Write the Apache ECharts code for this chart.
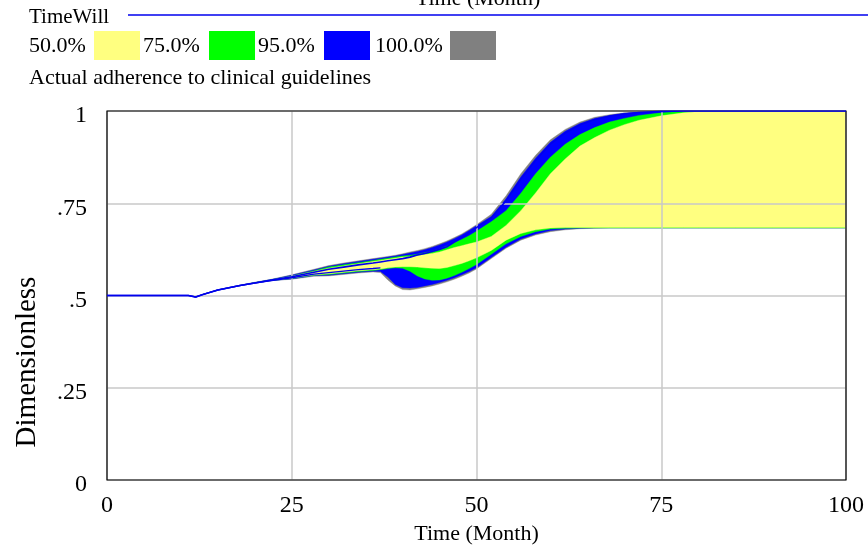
<!DOCTYPE html>
<html>
<head>
<meta charset="utf-8">
<script src="https://cdn.jsdelivr.net/npm/echarts@6/dist/echarts.min.js"></script>
<style>
  html, body { margin: 0; padding: 0; background: #fff; }
  #chart { width: 868px; height: 546px; }
</style>
</head>
<body>
<div id="chart"></div>
<script>
// Time axis (months) shared by every series
const months = [0,5,10,11,12,13,15,18,20,22,25,28,30,32,34,36,37,38,39,40,41,42,43,44,45,46,47,48,49,50,52,54,56,58,60,62,64,66,68,70,72,75,78,80,85,90,95,100];

// TimeWill run
const timeWill = [0.5,0.5,0.5,0.5,0.496,0.503,0.515,0.527,0.534,0.541,
  0.551,0.563,0.571,0.577,0.583,0.588,0.591,0.594,0.597,0.600,
  0.604,0.610,0.614,0.619,0.625,0.632,0.645,0.657,0.670,0.684,
  0.710,0.757,0.815,0.866,0.910,0.940,0.962,0.977,0.986,0.992,
  0.996,0.999,1,1,1,1,1,1];

// second traced run, ends where it joins the lower envelope
const lowerRun = [0.5,0.5,0.5,0.5,0.496,0.503,0.515,0.527,0.534,0.540,
  0.548,0.558,0.562,0.566,0.570,0.573,0.575,null,null,null,
  null,null,null,null,null,null,null,null,null,null,
  null,null,null,null,null,null,null,null,null,null,
  null,null,null,null,null,null,null,null];

// Sensitivity envelopes: upper and lower bounds for each confidence band
const p100Hi = [0.5,0.5,0.5,0.5,0.496,0.503,0.515,0.528,0.536,0.543,
  0.556,0.571,0.581,0.588,0.594,0.600,0.603,0.606,0.609,0.613,
  0.618,0.622,0.627,0.633,0.640,0.648,0.657,0.667,0.679,0.692,
  0.720,0.770,0.830,0.880,0.922,0.950,0.970,0.983,0.990,0.995,
  0.998,1,1,1,1,1,1,1];
const p95Hi = [0.5,0.5,0.5,0.5,0.496,0.503,0.515,0.527,0.535,0.542,
  0.555,0.569,0.579,0.586,0.592,0.598,0.601,0.604,0.607,0.611,
  0.615,0.619,0.624,0.630,0.637,0.645,0.654,0.664,0.676,0.689,
  0.714,0.762,0.821,0.872,0.915,0.945,0.966,0.980,0.988,0.994,
  0.997,0.999,1,1,1,1,1,1];
const p75Hi = [0.5,0.5,0.5,0.5,0.496,0.503,0.515,0.527,0.535,0.542,
  0.553,0.567,0.577,0.583,0.589,0.595,0.598,0.601,0.604,0.607,
  0.609,0.612,0.616,0.620,0.626,0.634,0.643,0.652,0.662,0.674,
  0.700,0.730,0.777,0.830,0.875,0.910,0.936,0.955,0.970,0.980,
  0.988,0.995,0.999,1,1,1,1,1];
const p50Hi = [0.5,0.5,0.5,0.5,0.496,0.503,0.515,0.527,0.534,0.541,
  0.552,0.565,0.574,0.580,0.586,0.592,0.595,0.598,0.601,0.604,
  0.605,0.608,0.611,0.614,0.618,0.624,0.630,0.635,0.640,0.645,
  0.660,0.690,0.730,0.778,0.830,0.870,0.905,0.928,0.948,0.963,
  0.975,0.987,0.995,0.998,1,1,1,1];
const p50Lo = [0.5,0.5,0.5,0.5,0.496,0.503,0.515,0.527,0.534,0.540,
  0.547,0.556,0.559,0.563,0.567,0.570,0.572,0.575,0.577,0.578,
  0.578,0.577,0.575,0.574,0.573,0.576,0.581,0.587,0.594,0.602,
  0.622,0.650,0.668,0.678,0.683,0.684,0.684,0.684,0.684,0.684,
  0.684,0.684,0.684,0.684,0.684,0.684,0.684,0.684];
const p75Lo = [0.5,0.5,0.5,0.5,0.496,0.503,0.515,0.527,0.534,0.540,
  0.546,0.555,0.557,0.561,0.565,0.568,0.570,0.573,0.575,0.574,
  0.566,0.553,0.545,0.541,0.542,0.547,0.554,0.563,0.573,0.584,
  0.612,0.640,0.660,0.673,0.680,0.682,0.683,0.683,0.683,0.683,
  0.683,0.683,0.683,0.683,0.683,0.683,0.683,0.683];
const p95Lo = [0.5,0.5,0.5,0.5,0.496,0.503,0.515,0.527,0.534,0.540,
  0.545,0.554,0.555,0.559,0.563,0.566,0.565,0.550,0.530,0.521,
  0.520,0.522,0.526,0.530,0.535,0.541,0.548,0.556,0.565,0.575,
  0.603,0.631,0.653,0.667,0.676,0.680,0.682,0.683,0.683,0.683,
  0.683,0.683,0.683,0.683,0.683,0.683,0.683,0.683];
const p100Lo = [0.5,0.5,0.5,0.5,0.496,0.503,0.515,0.527,0.534,0.540,
  0.544,0.552,0.553,0.557,0.561,0.564,0.562,0.542,0.526,0.516,
  0.515,0.518,0.522,0.526,0.531,0.537,0.544,0.552,0.561,0.572,
  0.600,0.628,0.650,0.664,0.673,0.678,0.681,0.682,0.683,0.683,
  0.683,0.683,0.683,0.683,0.683,0.683,0.683,0.683];

// Band labels and tick labels
const bandLabels = ['50.0%', '75.0%', '95.0%', '100.0%'];
const xTicks = [0, 25, 50, 75, 100];
const yTickLabels = { 0: '0', 0.25: '.25', 0.5: '.5', 0.75: '.75', 1: '1' };

const bandColors = ['#ffff80', '#00ff00', '#0000ff', '#808080'];
const bands = [
  { label: bandLabels[3], lo: p100Lo, hi: p100Hi, color: bandColors[3] },
  { label: bandLabels[2], lo: p95Lo, hi: p95Hi, color: bandColors[2] },
  { label: bandLabels[1], lo: p75Lo, hi: p75Hi, color: bandColors[1] },
  { label: bandLabels[0], lo: p50Lo, hi: p50Hi, color: bandColors[0] }
];

const serif = '"Liberation Serif", "Times New Roman", serif';
const series = [];

// Each band is one filled polygon: upper bound left to right, lower bound back
bands.forEach((b) => {
  series.push({
    name: b.label, type: 'custom', silent: true, z: 2, clip: true,
    data: months.map((t, k) => [t, b.lo[k], b.hi[k]]),
    encode: { x: 0, y: [1, 2] },
    renderItem: (params, api) => {
      if (params.dataIndex !== 0) return null;
      const pts = [];
      for (let k = 0; k < months.length; k++) pts.push(api.coord([months[k], b.hi[k]]));
      for (let k = months.length - 1; k >= 0; k--) pts.push(api.coord([months[k], b.lo[k]]));
      return { type: 'polygon', shape: { points: pts }, style: { fill: b.color, stroke: b.color, lineWidth: 0.4 } };
    }
  });
});
series.push({
  name: 'TimeWill', type: 'line', symbol: 'none', silent: true, z: 6,
  lineStyle: { color: '#0000ee', width: 1.6 },
  data: months.map((t, k) => [t, timeWill[k]])
});
series.push({
  type: 'line', symbol: 'none', silent: true, z: 6, connectNulls: false,
  lineStyle: { color: '#0000ee', width: 1.4 },
  data: months.map((t, k) => [t, lowerRun[k]])
});

// Legend-style header drawn as text and swatches
const legendX = [29, 143, 258, 375];
const swatchX = [94, 209, 324, 450];
const graphic = [
  { type: 'text', x: 478, y: -1, style: { text: 'Time (Month)', font: '22px ' + serif, fill: '#000', align: 'center', verticalAlign: 'middle' } },
  { type: 'line', shape: { x1: 128, y1: 15, x2: 868, y2: 15 }, style: { stroke: '#0000ee', lineWidth: 1.6 } },
  { type: 'text', x: 29, y: 17, style: { text: 'TimeWill', font: '21px ' + serif, fill: '#000', align: 'left', verticalAlign: 'middle' } },
  { type: 'text', x: 29, y: 78, style: { text: 'Actual adherence to clinical guidelines', font: '22px ' + serif, fill: '#000', align: 'left', verticalAlign: 'middle' } },
  { type: 'text', x: 27, y: 362, rotation: Math.PI / 2, style: { text: 'Dimensionless', font: '29px ' + serif, fill: '#000', align: 'center', verticalAlign: 'middle' } }
];
bandLabels.forEach((lab, i) => {
  graphic.push({ type: 'text', x: legendX[i], y: 46, style: { text: lab, font: '22px ' + serif, fill: '#000', align: 'left', verticalAlign: 'middle' } });
  graphic.push({ type: 'rect', shape: { x: swatchX[i], y: 31, width: 46, height: 29 }, style: { fill: bandColors[i] } });
});

const chart = echarts.init(document.getElementById('chart'), null, { renderer: 'canvas' });
chart.setOption({
  animation: false,
  backgroundColor: '#fff',
  grid: { left: 107, right: 22, top: 111, bottom: 66, show: true, z: 5, outerBoundsMode: 'none', containLabel: false,
    backgroundColor: 'transparent', borderColor: '#000', borderWidth: 1.2 },
  xAxis: {
    type: 'value', min: xTicks[0], max: xTicks[xTicks.length - 1], interval: 25, z: 3,
    name: 'Time (Month)', nameLocation: 'middle', nameGap: 40,
    nameTextStyle: { fontFamily: serif, fontSize: 22, color: '#000' },
    axisLine: { show: false }, axisTick: { show: false },
    axisLabel: { fontFamily: serif, fontSize: 24, color: '#000', margin: 14 },
    splitLine: { show: true, lineStyle: { color: '#c8c8c8', width: 1.5 } }
  },
  yAxis: {
    type: 'value', min: 0, max: 1, interval: 0.25, z: 3,
    axisLine: { show: false }, axisTick: { show: false },
    axisLabel: { color: '#000', margin: 20,
      formatter: v => '{t|' + yTickLabels[v] + '}',
      rich: { t: { fontFamily: serif, fontSize: 24, color: '#000', padding: [10, 0, 0, 0] } } },
    splitLine: { show: true, lineStyle: { color: '#c8c8c8', width: 1.5 } }
  },
  graphic: graphic,
  series: series
});
</script>
</body>
</html>
